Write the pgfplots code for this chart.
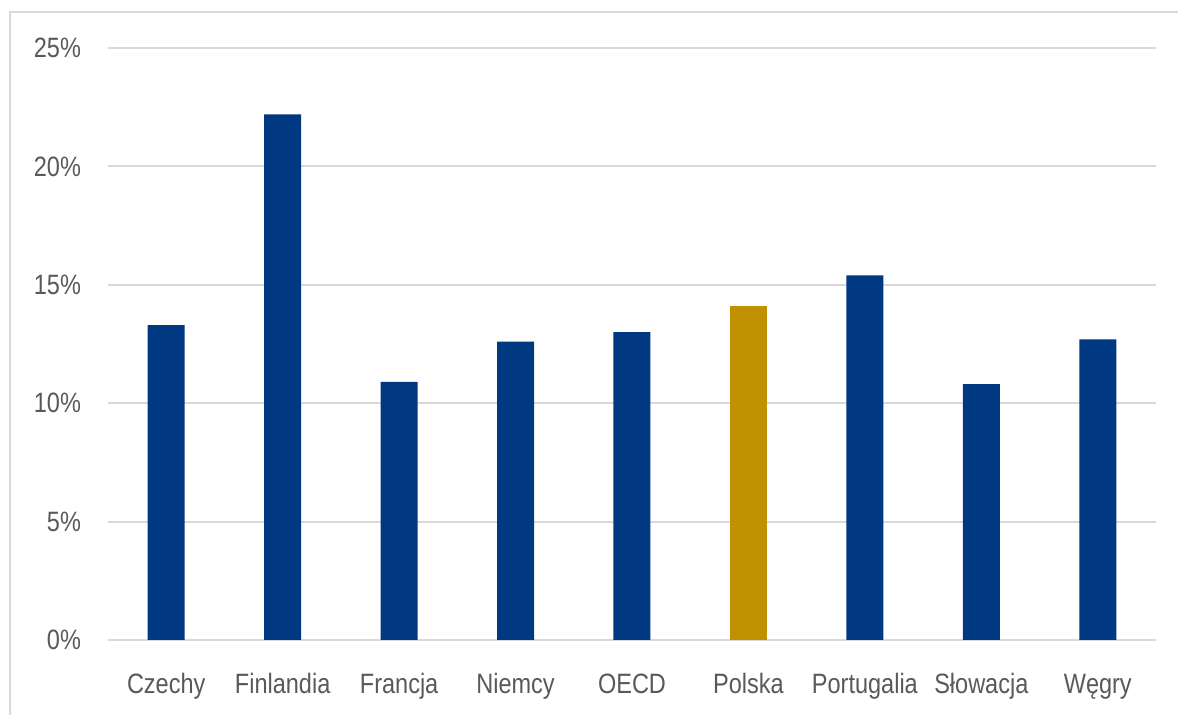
\documentclass[border=0pt]{standalone}
\usepackage{pgfplots}
\pgfplotsset{compat=1.18}
\usepackage{fontspec}
\setmainfont[FakeStretch=0.84]{Liberation Sans}
\definecolor{barblue}{RGB}{0,56,130}
\definecolor{bargold}{RGB}{191,144,0}
\definecolor{gridgray}{RGB}{217,217,217}
\definecolor{txtgray}{RGB}{89,89,89}
\begin{document}
\begin{tikzpicture}
\useasboundingbox (-54pt,-37.5pt) rectangle (535pt,320pt);
\draw[gridgray,line width=1pt] (-49pt,-40pt) -- (-49pt,314pt) -- (540pt,314pt);
\begin{axis}[
  scale only axis,
  width=524pt, height=296pt,
  at={(0,0)}, anchor=south west,
  xmin=-0.5, xmax=8.5,
  ymin=0, ymax=25,
  ytick={0,5,10,15,20,25},
  xtick={0,1,2,3,4,5,6,7,8},
  xticklabels={Czechy,Finlandia,Francja,Niemcy,OECD,Polska,Portugalia,Słowacja,Węgry},
  axis line style={draw=none},
  ymajorgrids,
  grid style={gridgray,line width=1pt},
  major tick length=0pt,
  /pgf/number format/assume math mode=true,
  yticklabel={\pgfmathprintnumber{\tick}\%},
  ticklabel style={font=\fontsize{14pt}{16pt}\selectfont,text=txtgray},
  yticklabel style={xshift=-10pt},
  xticklabel style={yshift=-12.5pt,text height=10.5pt,text depth=3pt},
  ybar, bar width=18.5pt, bar shift=0pt,
  clip=false,
]
\addplot[fill=barblue,draw=none] coordinates {(0,13.3) (1,22.2) (2,10.9) (3,12.6) (4,13.0) (6,15.4) (7,10.8) (8,12.7)};
\addplot[fill=bargold,draw=none] coordinates {(5,14.1)};
\end{axis}
\end{tikzpicture}
\end{document}
